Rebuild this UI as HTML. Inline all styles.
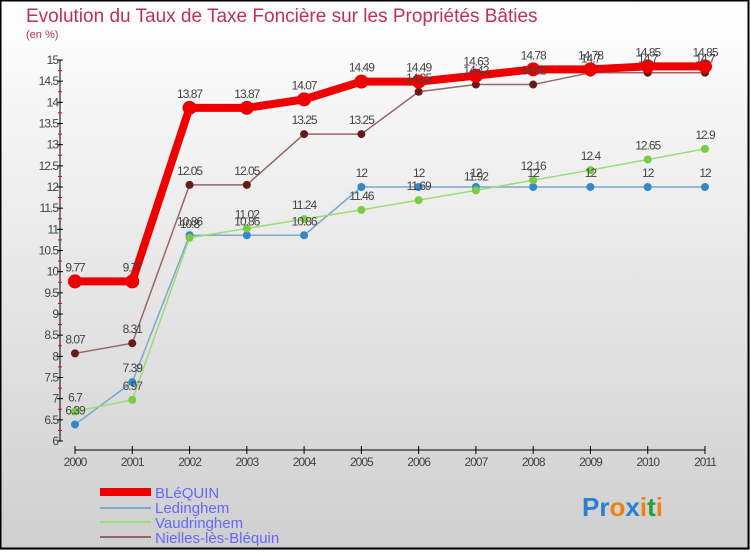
<!DOCTYPE html>
<html><head><meta charset="utf-8"><style>
body{margin:0;width:750px;height:550px;overflow:hidden;font-family:"Liberation Sans",sans-serif}
</style></head><body>
<svg id="c" width="750" height="550" xmlns="http://www.w3.org/2000/svg">
<defs><linearGradient id="bg" x1="0" y1="0" x2="0" y2="1"><stop offset="0" stop-color="#ffffff"/><stop offset="1" stop-color="#cfcfcf"/></linearGradient></defs>
<rect x="0" y="0" width="750" height="550" fill="url(#bg)"/>
<rect x="0.5" y="0.5" width="748" height="548" fill="none" stroke="#000" stroke-width="2"/>
<text x="26" y="22" font-size="19" fill="#c0305a">Evolution du Taux de Taxe Foncière sur les Propriétés Bâties</text>
<text x="26" y="38" font-size="11" fill="#c0305a">(en %)</text>
<g id="axes"></g><g id="series"></g><g id="labels"></g>
<g font-size="15" fill="#6666ff">
<line x1="100" y1="492" x2="151" y2="492" stroke="#ee0000" stroke-width="8"/><text x="155" y="498">BLéQUIN</text>
<line x1="100" y1="508" x2="151" y2="508" stroke="#7aaacc" stroke-width="2"/><text x="155" y="513">Ledinghem</text>
<line x1="100" y1="522" x2="151" y2="522" stroke="#99dd77" stroke-width="2"/><text x="155" y="528">Vaudringhem</text>
<line x1="100" y1="537" x2="151" y2="537" stroke="#996666" stroke-width="2"/><text x="155" y="543">Nielles-lès-Bléquin</text>
</g>
<text x="582" y="516" font-size="26" font-weight="bold"><tspan fill="#2a7fd0">Pr</tspan><tspan fill="#f08010">o</tspan><tspan fill="#2a7fd0">x</tspan><tspan fill="#f08010">i</tspan><tspan fill="#20a040">t</tspan><tspan fill="#f08010">i</tspan></text>
</svg>
<script>
const years=[2000,2001,2002,2003,2004,2005,2006,2007,2008,2009,2010,2011];
const blequin=[9.77,9.77,13.87,13.87,14.07,14.49,14.49,14.63,14.78,14.78,14.85,14.85];
const ledinghem=[6.39,7.39,10.86,10.86,10.86,12,12,12,12,12,12,12];
const vaudringhem=[6.7,6.97,10.8,11.02,11.24,11.46,11.69,11.92,12.16,12.4,12.65,12.9];
const nielles=[8.07,8.31,12.05,12.05,13.25,13.25,14.25,14.42,14.42,14.7,14.7,14.7];
const yTicks=[6,6.5,7,7.5,8,8.5,9,9.5,10,10.5,11,11.5,12,12.5,13,13.5,14,14.5,15];
const NS="http://www.w3.org/2000/svg";
const X=i=>75+i*(630/(years.length-1));
const Y=v=>441-(v-6)*(381/9);
function mk(tag,at,parent){const e=document.createElementNS(NS,tag);for(const k in at)e.setAttribute(k,at[k]);document.getElementById(parent).appendChild(e);return e;}
let e=mk('line',{x1:60,y1:Y(15),x2:60,y2:Y(6),stroke:'#000'},'axes');


e=mk('line',{x1:75,y1:450,x2:705,y2:450,stroke:'#000'},'axes');


yTicks.forEach(t=>{const y=Y(t);
 let l=mk('line',{x1:57,y1:y,x2:63,y2:y,stroke:'#000'},'axes');
 
 
 let m=mk('line',{x1:58,y1:y+10.6,x2:62,y2:y+10.6,stroke:'#e00'},'axes');
 if(t===6)m.setAttribute('visibility','hidden');
 
 
 let tx=mk('text',{x:58,y:y+4,'text-anchor':'end','font-size':12,fill:'#444','letter-spacing':'-1'},'axes');tx.textContent=t;
 
 });
years.forEach((yr,i)=>{const x=X(i);
 let l=mk('line',{x1:x,y1:446,x2:x,y2:454,stroke:'#000'},'axes');
 
 
 let tx=mk('text',{x:x,y:466,'text-anchor':'middle','font-size':12,fill:'#444','letter-spacing':'-1'},'axes');tx.textContent=yr;
 
 });
function series(name,data,color,w,r,dot){
 const p=mk('polyline',{points:data.map((v,i)=>X(i)+','+Y(v)).join(' '),fill:'none',stroke:color,'stroke-width':w,'stroke-linejoin':'round'},'series');
 
 
 data.forEach((v,i)=>{const c=mk('circle',{cx:X(i),cy:Y(v),r:r,fill:dot},'series');
  
  
  const t=mk('text',{x:X(i),y:Y(v)-10,'text-anchor':'middle','font-size':12,fill:'#444','letter-spacing':'-1'},'labels');t.textContent=v;
  
  });
}
series('ledinghem',ledinghem,'#7aaacc',1.5,4,'#3388cc');
series('vaudringhem',vaudringhem,'#99dd77',1.5,4,'#77cc44');
series('nielles',nielles,'#996666',1.5,4,'#661a1a');
series('blequin',blequin,'#ee0000',8,7,'#ee0000');
</script>
</body></html>
